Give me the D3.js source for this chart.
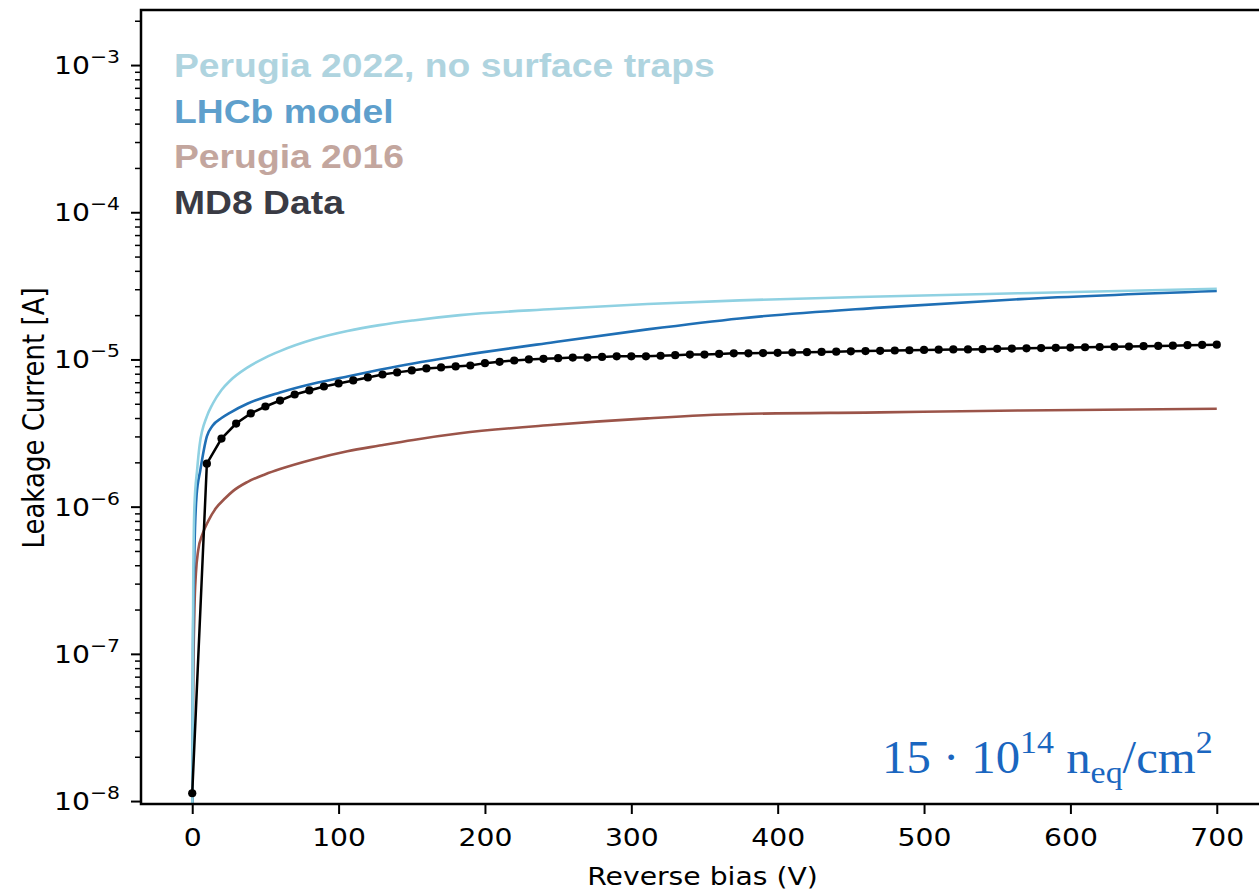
<!DOCTYPE html>
<html>
<head>
<meta charset="utf-8">
<script src="https://cdn.jsdelivr.net/npm/d3@7"></script>
<style>
    body { margin: 0; background: #fff; }
    .tick text { font-family: "DejaVu Sans", sans-serif; }
</style>
</head>
<body>
<div id="chart"></div>
<script>
// series names and colours
var keys = ["Perugia 2022, no surface traps", "LHCb model", "Perugia 2016", "MD8 Data"];
var lineColors = ["#8fd1e2", "#1f6fb5", "#9b5449", "#000000"];
var textColors = ["#afd4df", "#5e9fcc", "#c3a69e", "#3a3b44"];

var xTicks = [0, 100, 200, 300, 400, 500, 600, 700];
var yTicks = [-8, -7, -6, -5, -4, -3];

// model curves: [reverse bias V, leakage current A]
var perugia2022 = [[0, 5e-9], [0.3, 5e-8], [0.7, 3e-7], [1.5, 1e-6], [3.4, 1.8e-6], [5, 2.6e-6], [10, 4.1e-6],
    [14, 5.0e-6], [20, 6.2e-6], [26, 7.2e-6], [37.6, 8.8e-6], [50, 1.03e-5], [60, 1.14e-5], [83, 1.37e-5],
    [106, 1.56e-5], [128, 1.71e-5], [151, 1.84e-5], [183, 2.0e-5], [247, 2.2e-5], [311, 2.38e-5],
    [374, 2.52e-5], [470, 2.68e-5], [566, 2.82e-5], [700, 3.02e-5]];
var lhcbModel = [[0, 5e-9], [0.5, 1e-7], [1.5, 5e-7], [3, 1.2e-6], [5.5, 1.76e-6], [10, 3.0e-6], [14, 3.56e-6],
    [20, 4.0e-6], [26, 4.36e-6], [37.6, 5.0e-6], [60, 5.97e-6], [83, 6.87e-6], [106, 7.66e-6], [128, 8.5e-6],
    [151, 9.4e-6], [183, 1.06e-5], [247, 1.31e-5], [311, 1.6e-5], [374, 1.9e-5], [470, 2.25e-5],
    [566, 2.57e-5], [700, 2.92e-5]];
var perugia2016 = [[0, 5e-9], [0.6, 5e-8], [1.5, 2e-7], [2.5, 3.5e-7], [4, 5e-7], [7, 6.5e-7], [11, 8e-7],
    [16, 9.7e-7], [22.5, 1.14e-6], [28, 1.28e-6], [37.6, 1.47e-6], [50, 1.66e-6], [60, 1.8e-6], [83, 2.1e-6],
    [106, 2.38e-6], [128, 2.6e-6], [151, 2.84e-6], [183, 3.15e-6], [247, 3.6e-6], [311, 3.98e-6],
    [374, 4.26e-6], [470, 4.37e-6], [566, 4.5e-6], [700, 4.62e-6]];

// MD8 measurement, every 10 V
var md8Voltage = [0, 10, 20, 30, 40, 50, 60, 70, 80, 90, 100, 110, 120, 130, 140, 150, 160, 170, 180, 190,
    200, 210, 220, 230, 240, 250, 260, 270, 280, 290, 300, 310, 320, 330, 340, 350, 360, 370, 380, 390,
    400, 410, 420, 430, 440, 450, 460, 470, 480, 490, 500, 510, 520, 530, 540, 550, 560, 570, 580, 590,
    600, 610, 620, 630, 640, 650, 660, 670, 680, 690, 700];
var md8Current = [1.13e-8, 1.96e-6, 2.9e-6, 3.67e-6, 4.3e-6, 4.79e-6, 5.26e-6, 5.78e-6, 6.16e-6, 6.55e-6,
    6.87e-6, 7.2e-6, 7.55e-6, 7.9e-6, 8.17e-6, 8.42e-6, 8.69e-6, 8.83e-6, 8.96e-6, 9.1e-6,
    9.44e-6, 9.64e-6, 9.84e-6, 1.0e-5, 1.01e-5, 1.02e-5, 1.03e-5, 1.03e-5, 1.04e-5, 1.05e-5,
    1.05e-5, 1.05e-5, 1.06e-5, 1.07e-5, 1.08e-5, 1.08e-5, 1.09e-5, 1.10e-5, 1.10e-5, 1.105e-5,
    1.11e-5, 1.115e-5, 1.12e-5, 1.125e-5, 1.13e-5, 1.135e-5, 1.14e-5, 1.145e-5, 1.15e-5, 1.155e-5,
    1.16e-5, 1.165e-5, 1.17e-5, 1.17e-5, 1.175e-5, 1.18e-5, 1.185e-5, 1.19e-5, 1.195e-5, 1.20e-5,
    1.205e-5, 1.21e-5, 1.215e-5, 1.22e-5, 1.225e-5, 1.23e-5, 1.235e-5, 1.24e-5, 1.25e-5, 1.255e-5, 1.26e-5];

function chart() {
    var w = 1259;
    var h = 891;
    var left = 141, top = 10, right = 1268, bottom = 804;
    var stretch = 1.13; // the picture is wider than tall, text looks stretched

    var svg = d3.select("#chart")
                .append("svg")
                .attr("width", w)
                .attr("height", h);

    // scales
    var xScale = d3.scaleLinear()
                   .domain([-35, 735])
                   .range([left, right]);
    var yScale = d3.scaleLog()
                   .domain([Math.pow(10, -8.02), Math.pow(10, -2.626)])
                   .range([bottom, top]);

    svg.append("clipPath")
       .attr("id", "plot-clip")
       .append("rect")
       .attr("x", left).attr("y", top)
       .attr("width", right - left).attr("height", bottom - top);

    var plot = svg.append("g").attr("clip-path", "url(#plot-clip)");

    var line = d3.line()
                 .x(function(d) { return xScale(d[0]); })
                 .y(function(d) { return yScale(d[1]); })
                 .curve(d3.curveMonotoneX);

    // brown first so the light blue sits on top near 0 V
    var models = [perugia2022, lhcbModel, perugia2016];
    [2, 1, 0].forEach(function(i) {
        plot.append("path")
            .datum(models[i])
            .attr("fill", "none")
            .attr("stroke", lineColors[i])
            .attr("stroke-width", 2.6)
            .attr("d", line);
    });

    // measured data, straight segments with dots
    var md8 = md8Voltage.map(function(v, i) { return [v, md8Current[i]]; });
    plot.append("path")
        .datum(md8)
        .attr("fill", "none")
        .attr("stroke", lineColors[3])
        .attr("stroke-width", 2.5)
        .attr("d", line.curve(d3.curveLinear));
    plot.selectAll("circle")
        .data(md8)
        .enter()
        .append("circle")
        .attr("cx", function(d) { return xScale(d[0]); })
        .attr("cy", function(d) { return yScale(d[1]); })
        .attr("r", 4.1)
        .attr("fill", "#000");

    // x axis
    var xAxis = d3.axisBottom(xScale)
                  .tickValues(xTicks)
                  .tickSize(10)
                  .tickPadding(14);
    var gx = svg.append("g")
                .attr("transform", "translate(0," + bottom + ")")
                .call(xAxis);
    gx.select(".domain").remove();
    gx.selectAll(".tick line").attr("stroke", "#000").attr("stroke-width", 2);
    gx.selectAll(".tick text")
      .attr("font-size", 25)
      .attr("fill", "#000")
      .attr("transform", "scale(" + stretch + ",1)");

    // y axis, major ticks with 10^n labels
    var yAxis = d3.axisLeft(yScale)
                  .tickValues(yTicks.map(function(p) { return Math.pow(10, p); }))
                  .tickSize(10)
                  .tickFormat("");
    var gy = svg.append("g")
                .attr("transform", "translate(" + left + ",0)")
                .call(yAxis);
    gy.select(".domain").remove();
    gy.selectAll(".tick line").attr("stroke", "#000").attr("stroke-width", 2);

    // minor ticks
    var minors = [];
    for (var p = -9; p <= -3; p++) {
        for (var k = 2; k <= 9; k++) {
            var v = k * Math.pow(10, p);
            if (v >= yScale.domain()[0] && v <= yScale.domain()[1]) minors.push(v);
        }
    }
    var gm = svg.append("g")
                .attr("transform", "translate(" + left + ",0)")
                .call(d3.axisLeft(yScale).tickValues(minors).tickSize(6).tickFormat(""));
    gm.select(".domain").remove();
    gm.selectAll(".tick line").attr("stroke", "#000").attr("stroke-width", 1.5);

    var yLabels = svg.append("g");
    yTicks.forEach(function(p) {
        var t = yLabels.append("text")
                       .attr("transform", "translate(120," + (yScale(Math.pow(10, p)) + 9) + ") scale(" + stretch + ",1)")
                       .attr("text-anchor", "end")
                       .attr("font-family", "DejaVu Sans, sans-serif")
                       .attr("font-size", 25)
                       .attr("fill", "#000");
        t.append("tspan").text("10");
        t.append("tspan").attr("dy", -11).attr("font-size", 18).text("\u2212" + Math.abs(p));
    });

    // frame
    svg.append("rect")
       .attr("x", left).attr("y", top)
       .attr("width", right - left).attr("height", bottom - top)
       .attr("fill", "none")
       .attr("stroke", "#000")
       .attr("stroke-width", 2.5);

    // axis labels
    svg.append("text")
       .attr("transform", "translate(" + ((left + right) / 2 - 2) + ",885) scale(" + stretch + ",1)")
       .attr("text-anchor", "middle")
       .attr("font-family", "DejaVu Sans, sans-serif")
       .attr("font-size", 25)
       .text("Reverse bias (V)");
    svg.append("text")
       .attr("transform", "translate(44," + ((top + bottom) / 2 + 11) + ") scale(" + stretch + ",1) rotate(-90)")
       .attr("text-anchor", "middle")
       .attr("font-family", "DejaVu Sans, sans-serif")
       .attr("font-size", 26)
       .text("Leakage Current [A]");

    // legend as coloured text
    svg.selectAll("legendlabels")
       .data(keys)
       .enter()
       .append("text")
       .attr("transform", function(d, i) { return "translate(174," + (77 + i * 45.5) + ") scale(" + stretch + ",1)"; })
       .attr("font-family", "Liberation Sans, Arial, sans-serif")
       .attr("font-weight", "bold")
       .attr("font-size", 33)
       .attr("fill", function(d, i) { return textColors[i]; })
       .text(function(d) { return d; });

    // fluence annotation
    var ann = svg.append("text")
                 .attr("transform", "translate(882,773) scale(1.06,1)")
                 .attr("font-family", "Liberation Serif, Times New Roman, serif")
                 .attr("font-size", 46)
                 .attr("fill", "#1a66c0");
    ann.append("tspan").text("15 \u00b7 10");
    ann.append("tspan").attr("dy", -20).attr("font-size", 32).text("14");
    ann.append("tspan").attr("dy", 20).text(" n");
    ann.append("tspan").attr("dy", 10).attr("font-size", 32).text("eq");
    ann.append("tspan").attr("dy", -10).text("/cm");
    ann.append("tspan").attr("dy", -20).attr("font-size", 32).text("2");
}

window.onload = chart;
</script>
</body>
</html>
